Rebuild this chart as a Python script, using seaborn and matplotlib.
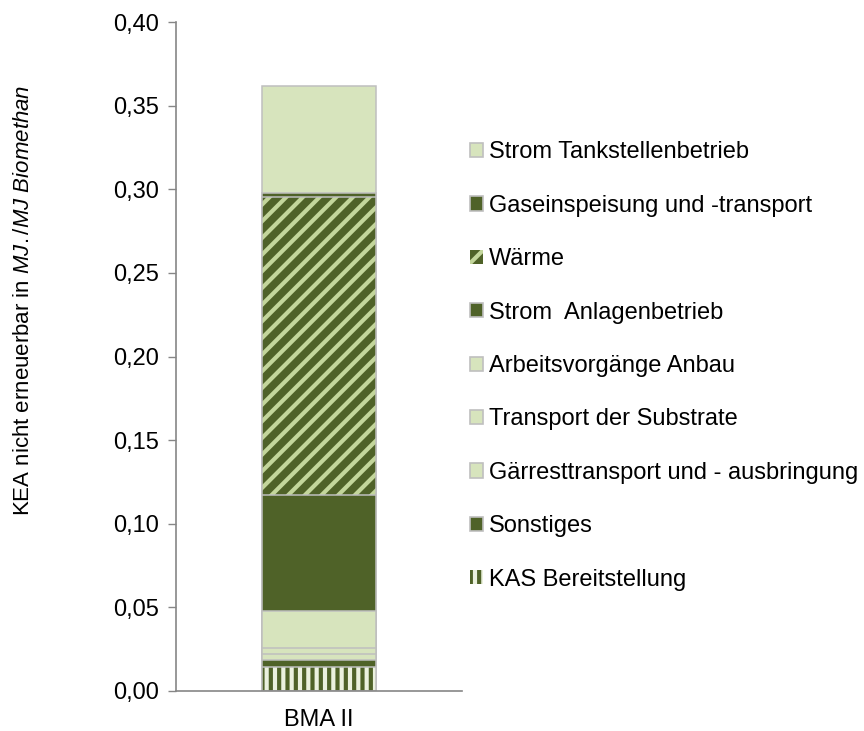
import numpy as np
import pandas as pd
import seaborn as sns
from matplotlib import pyplot as plt
from matplotlib.patches import Patch
from matplotlib.ticker import FuncFormatter

# stack order, bottom -> top
labels = [
    "KAS Bereitstellung",
    "Sonstiges",
    "Gärresttransport und - ausbringung",
    "Transport der Substrate",
    "Arbeitsvorgänge Anbau",
    "Strom  Anlagenbetrieb",
    "Wärme",
    "Gaseinspeisung und -transport",
    "Strom Tankstellenbetrieb",
]
values = [0.0145, 0.004, 0.0035, 0.004, 0.022, 0.069, 0.1785, 0.0025, 0.064]
category = "BMA II"
y_ticks = [0.0, 0.05, 0.10, 0.15, 0.20, 0.25, 0.30, 0.35, 0.40]

DARK = "#4F6228"
LIGHT = "#D7E4BD"
HATCH_LIGHT = "#C3D69B"
EDGE = "#BFBFBF"
FS = 17

# facecolor, hatch, hatch colour per segment
styles = {
    "KAS Bereitstellung": ("#EBF1DE", "||", DARK),
    "Sonstiges": (DARK, None, None),
    "Gärresttransport und - ausbringung": (LIGHT, None, None),
    "Transport der Substrate": (LIGHT, None, None),
    "Arbeitsvorgänge Anbau": (LIGHT, None, None),
    "Strom  Anlagenbetrieb": (DARK, None, None),
    "Wärme": (DARK, "//", HATCH_LIGHT),
    "Gaseinspeisung und -transport": (DARK, None, None),
    "Strom Tankstellenbetrieb": (LIGHT, None, None),
}

df = pd.DataFrame({"segment": labels, "value": values})
df["top"] = np.cumsum(df["value"])
df["x"] = category

sns.set_style("white")
plt.rcParams["font.family"] = ["Liberation Sans", "DejaVu Sans"]
plt.rcParams["text.color"] = "black"
plt.rcParams["xtick.labelcolor"] = "black"
plt.rcParams["ytick.labelcolor"] = "black"
plt.rcParams["mathtext.fontset"] = "custom"
plt.rcParams["mathtext.rm"] = "Liberation Sans"
plt.rcParams["mathtext.it"] = "Liberation Sans:italic"
plt.rcParams["hatch.linewidth"] = 3.0

fig = plt.figure(figsize=(8.64, 7.31), dpi=100)
ax = fig.add_axes([176 / 864, 1 - 691 / 731, 286 / 864, 669 / 731])

# overlay cumulative bars, tallest first
for _, row in df.iloc[::-1].iterrows():
    face, hatch, hcol = styles[row["segment"]]
    sub = pd.DataFrame({"x": [category], "top": [row["top"]]})
    if hatch:
        sns.barplot(data=sub, x="x", y="top", color=face, saturation=1,
                    width=0.4, hatch=hatch, edgecolor=hcol, linewidth=0, ax=ax)
        sns.barplot(data=sub, x="x", y="top", fill=False, color=EDGE,
                    width=0.4, linewidth=1.1, ax=ax)
    else:
        sns.barplot(data=sub, x="x", y="top", color=face, saturation=1,
                    width=0.4, edgecolor=EDGE, linewidth=1.1, ax=ax)

ax.set_xlim(-0.5, 0.5)
ax.set_ylim(0, 0.40)
ax.set_yticks(y_ticks)
ax.yaxis.set_major_formatter(FuncFormatter(lambda v, p: f"{v:.2f}".replace(".", ",")))
ax.set_xticks([0])
ax.set_xticklabels([category])
ax.set_xticks([-0.5, 0.5], minor=True)
ax.tick_params(axis="x", which="major", length=0, labelsize=FS, pad=13, labelcolor="black")
ax.tick_params(axis="x", which="minor", length=5, direction="out", color="#868686", width=1)
ax.tick_params(axis="y", length=6, direction="out", color="#868686", width=1,
               labelsize=FS, pad=6, left=True, labelcolor="black")
ax.set_xlabel("")
ax.set_ylabel("")
for side in ["top", "right"]:
    ax.spines[side].set_visible(False)
for side in ["left", "bottom"]:
    ax.spines[side].set_color("#868686")
    ax.spines[side].set_linewidth(1.2)

fig.text(24 / 864, 1 - 300 / 731,
         "KEA nicht erneuerbar in $\\mathit{MJ./MJ\\ Biomethan}$",
         rotation=90, ha="center", va="center", fontsize=16, color="black")

handles = []
for seg in labels[::-1]:
    face, hatch, hcol = styles[seg]
    if hatch:
        handles.append(Patch(facecolor=face, hatch=hatch, edgecolor=hcol,
                             linewidth=0, label=seg))
    else:
        handles.append(Patch(facecolor=face, edgecolor=EDGE, linewidth=1.2, label=seg))

fig.legend(handles=handles, loc="center left",
           bbox_to_anchor=(470 / 864, 1 - 366 / 731), bbox_transform=fig.transFigure,
           frameon=False, borderaxespad=0, borderpad=0, fontsize=FS,
           handlelength=0.55, handleheight=0.55, handletextpad=0.25,
           labelspacing=1.33, labelcolor="black")

fig.savefig("out.png", dpi=100)
